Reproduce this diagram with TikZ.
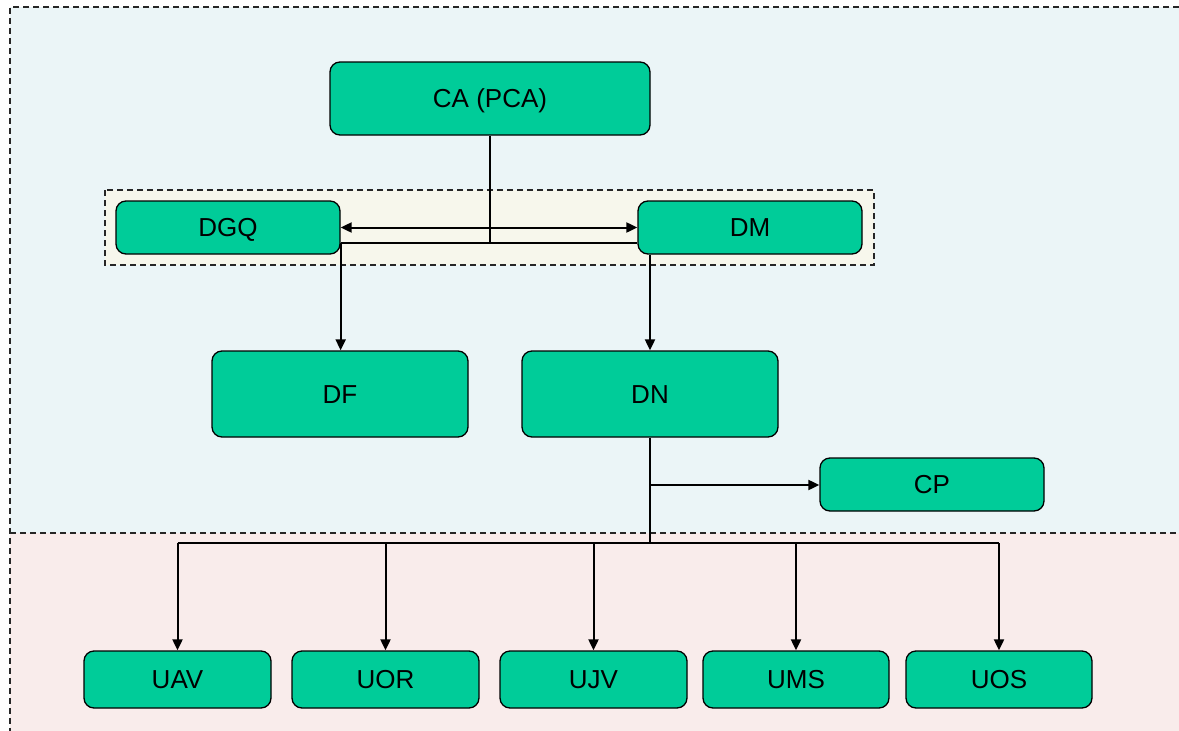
\documentclass[tikz,border=0pt]{standalone}
\usepackage{fontspec}
\setmainfont{Liberation Sans}
\usetikzlibrary{arrows.meta}
\definecolor{nodegreen}{HTML}{00CC99}
\definecolor{topbg}{HTML}{EBF5F7}
\definecolor{midbg}{HTML}{F7F7EC}
\definecolor{botbg}{HTML}{F9ECEB}
\tikzset{
  unit/.style={draw=black, line width=1.3pt, fill=nodegreen, rounded corners=10pt,
    inner sep=0pt, font=\fontsize{26}{30}\selectfont, text height=18.5pt, text depth=0pt},
  conn/.style={line width=2pt, black},
  arr/.style={conn, -{Triangle[length=11pt,width=10pt]}},
  darr/.style={conn, {Triangle[length=11pt,width=10pt]}-{Triangle[length=11pt,width=10pt]}},
  region/.style={dash pattern=on 6pt off 4pt, line width=1.4pt, black!85},
}
\begin{document}
\begin{tikzpicture}[x=1pt,y=-1pt]
\useasboundingbox (0,0) rectangle (1179,731);
% background regions
\fill[topbg] (10,7) rectangle (1179,533);
\fill[botbg] (10,533) rectangle (1179,731);
\draw[region] (1179,7) -- (10,7) -- (10,731);
\draw[region] (10,533) -- (1179,533);
\draw[region, fill=midbg] (105,190) rectangle (874,265);
% nodes
\node[unit, minimum width=320pt, minimum height=73pt] (CA) at (490,98.5) {CA (PCA)};
\node[unit, minimum width=224pt, minimum height=53pt] (DGQ) at (228,227.5) {DGQ};
\node[unit, minimum width=224pt, minimum height=53pt] (DM) at (750,227.5) {DM};
\node[unit, minimum width=256pt, minimum height=86pt] (DF) at (340,394) {DF};
\node[unit, minimum width=256pt, minimum height=86pt] (DN) at (650,394) {DN};
\node[unit, minimum width=224pt, minimum height=53pt] (CP) at (932,484.5) {CP};
\node[unit, minimum width=187pt, minimum height=57pt] (UAV) at (177.5,679.5) {UAV};
\node[unit, minimum width=187pt, minimum height=57pt] (UOR) at (385.5,679.5) {UOR};
\node[unit, minimum width=187pt, minimum height=57pt] (UJV) at (593.5,679.5) {UJV};
\node[unit, minimum width=186pt, minimum height=57pt] (UMS) at (796,679.5) {UMS};
\node[unit, minimum width=186pt, minimum height=57pt] (UOS) at (999,679.5) {UOS};
% coordinates
\coordinate (join) at (490,243);
\coordinate (cpjoin) at (650,485);
\coordinate (bus) at (650,543);
\coordinate (busL) at (177.5,543);
\coordinate (busR) at (999,543);
% connectors
\draw[darr] (DGQ.east) -- (DM.west);
\draw[conn] (DGQ.east |- join) -- (DM.west |- join);
\draw[conn] (CA.south) -- (join);
\draw[arr] (DGQ.east |- join) -- (DGQ.east |- DF.north);
\draw[arr] (DN.north |- DM.south) -- (DN.north);
\draw[conn] (DN.south) -- (bus);
\draw[arr] (cpjoin) -- (CP.west |- cpjoin);
\draw[conn] (busL) -- (busR);
\foreach \n in {UAV,UOR,UJV,UMS,UOS}{
  \draw[arr] (\n.north |- bus) -- (\n.north);
}
\end{tikzpicture}
\end{document}
